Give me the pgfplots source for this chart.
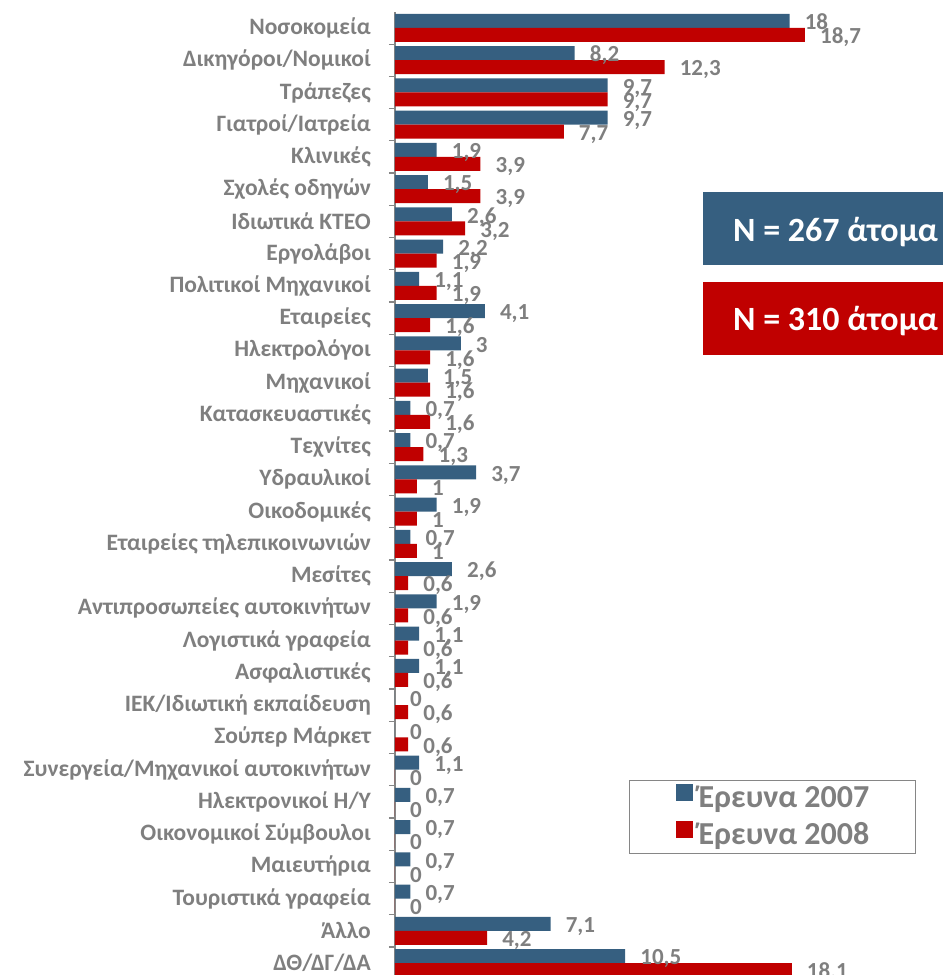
\documentclass[border=0pt]{standalone}
\usepackage{fontspec}
\setmainfont{Carlito}
\usepackage{pgfplots}
\usepackage{pgfplotstable}
\pgfplotsset{compat=1.18}
\definecolor{bblue}{RGB}{54,95,128}
\definecolor{rred}{RGB}{192,0,0}
\definecolor{lgray}{RGB}{127,127,127}
\definecolor{agray}{RGB}{134,134,134}

\pgfplotstableread{
y a b
0 18 18.7
1 8.2 12.3
2 9.7 9.7
3 9.7 7.7
4 1.9 3.9
5 1.5 3.9
6 2.6 3.2
7 2.2 1.9
8 1.1 1.9
9 4.1 1.6
10 3 1.6
11 1.5 1.6
12 0.7 1.6
13 0.7 1.3
14 3.7 1
15 1.9 1
16 0.7 1
17 2.6 0.6
18 1.9 0.6
19 1.1 0.6
20 1.1 0.6
21 0 0.6
22 0 0.6
23 1.1 0
24 0.7 0
25 0.7 0
26 0.7 0
27 0.7 0
28 7.1 4.2
29 10.5 18.1
}\data

\begin{document}
\begin{tikzpicture}[x=1pt,y=1pt]
\path[use as bounding box, clip] (0,0) rectangle (943,975);
\begin{axis}[
  at={(395pt,0pt)}, anchor=south west,
  scale only axis, width=548pt, height=963pt,
  xbar, xmin=0, xmax=25,
  ymin=-0.496, ymax=29.37, y dir=reverse,
  axis x line=none, axis y line*=left,
  axis line style={draw=agray, line width=1.5pt},
  xtick=\empty,
  ytick={0,...,29},
  yticklabels={Νοσοκομεία, Δικηγόροι/Νομικοί, Τράπεζες, Γιατροί/Ιατρεία, Κλινικές, Σχολές οδηγών, Ιδιωτικά ΚΤΕΟ, Εργολάβοι, Πολιτικοί Μηχανικοί, Εταιρείες, Ηλεκτρολόγοι, Μηχανικοί, Κατασκευαστικές, Τεχνίτες, Υδραυλικοί, Οικοδομικές, Εταιρείες τηλεπικοινωνιών, Μεσίτες, Αντιπροσωπείες αυτοκινήτων, Λογιστικά γραφεία, Ασφαλιστικές, ΙΕΚ/Ιδιωτική εκπαίδευση, Σούπερ Μάρκετ, Συνεργεία/Μηχανικοί αυτοκινήτων, Ηλεκτρονικοί Η/Υ, Οικονομικοί Σύμβουλοι, Μαιευτήρια, Τουριστικά γραφεία, Άλλο, ΔΘ/ΔΓ/ΔΑ},
  major tick length=0pt,
  yticklabel style={font=\bfseries\fontsize{23.5}{26}\selectfont, text=lgray, anchor=east, inner sep=0pt, xshift=-24pt},
  extra y ticks={-0.5,0.5,...,28.5},
  extra y tick labels={},
  extra y tick style={major tick length=6pt, tick align=outside, tick style={draw=agray, line width=1.2pt}},
  bar width=14pt,
  point meta=x,
  nodes near coords={\pgfmathprintnumber[use comma, assume math mode=true]{\pgfplotspointmeta}},
  every node near coord/.append style={font=\bfseries\fontsize{23}{26}\selectfont, text=lgray, anchor=west, inner sep=0pt, text height=14.5pt, text depth=0pt, xshift=15pt, yshift=-1.5pt},
  legend image code/.code={\fill[#1,draw=none] (0pt,-0.5pt) rectangle (17pt,16.5pt);},
  legend style={at={(0.427,0.2025)}, anchor=north west, draw=agray, line width=1.2pt,
    font=\bfseries\fontsize{32}{34}\selectfont, text=lgray, inner xsep=46pt, inner ysep=3pt,
    row sep=8pt, column sep=6pt, nodes={inner sep=0pt, text height=20pt, text depth=6pt}},
  legend cell align=left,
]
\addplot[fill=bblue, draw=none, bar shift=7pt] table[x=a,y=y] {\data};
\addplot[fill=rred, draw=none, bar shift=-7pt] table[x=b,y=y] {\data};
\legend{Έρευνα 2007, Έρευνα 2008}
\end{axis}
\node[fill=bblue, minimum width=240pt, minimum height=73pt, inner sep=0pt, anchor=north west] at (703,783) {};
\node[anchor=base east, text=white, inner sep=0pt, font=\bfseries\fontsize{34}{36}\selectfont] at (938,733) {N = 267 άτομα};
\node[fill=rred, minimum width=240pt, minimum height=73pt, inner sep=0pt, anchor=north west] at (703,693) {};
\node[anchor=base east, text=white, inner sep=0pt, font=\bfseries\fontsize{34}{36}\selectfont] at (938,644) {N = 310 άτομα};
\end{tikzpicture}
\end{document}
